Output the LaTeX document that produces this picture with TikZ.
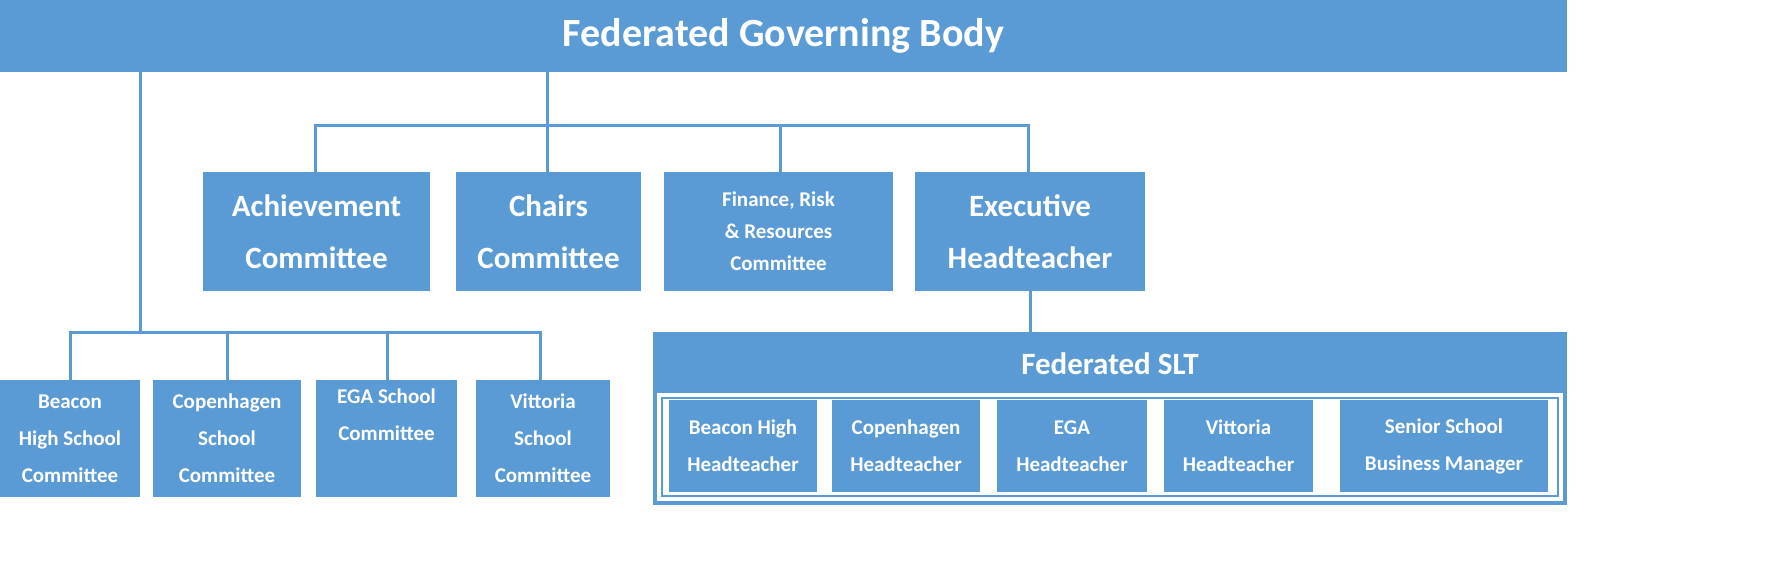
\documentclass[tikz,border=0pt]{standalone}
\usepackage{fontspec}
\setmainfont{Carlito}
\definecolor{bb}{HTML}{5B9BD5}
\begin{document}
\begin{tikzpicture}[x=1pt,y=-1pt,
 bx/.style={fill=bb,draw=none,text=white,font=\bfseries,align=center,inner sep=0},
 ln/.style={draw=bb,line width=3pt}]
\node[bx,minimum width=1567,minimum height=72,font=\bfseries\fontsize{40}{48}\selectfont] (fgb) at (783.5,36) {Federated Governing Body};
% committees
\node[bx,minimum width=227,minimum height=119,font=\bfseries\fontsize{31}{52}\selectfont] (ach) at (316.5,231.5) {Achievement\\Committee};
\node[bx,minimum width=185,minimum height=119,font=\bfseries\fontsize{31}{52}\selectfont] (cha) at (548.5,231.5) {Chairs\\Committee};
\node[bx,minimum width=229,minimum height=119,font=\bfseries\fontsize{21}{32}\selectfont] (fin) at (778.5,231.5) {Finance, Risk\\\& Resources\\Committee};
\node[bx,minimum width=230,minimum height=119,font=\bfseries\fontsize{31}{52}\selectfont] (exe) at (1030,231.5) {Executive\\Headteacher};
% school committees
\tikzset{sc/.style={bx,minimum height=117,font=\bfseries\fontsize{21}{37}\selectfont}}
\node[sc,minimum width=140] (bea) at (70,438.5) {Beacon\\High School\\Committee};
\node[sc,minimum width=148] (cop) at (227,438.5) {Copenhagen\\School\\Committee};
\node[sc,minimum width=141] (ega) at (386.5,438.5) {EGA School\\Committee\\\strut};
\node[sc,minimum width=134] (vit) at (543,438.5) {Vittoria\\School\\Committee};
% SLT
\node[bx,minimum width=914,minimum height=173] (slt) at (1110,418.5) {};
\draw[white,fill=white,line width=2.5pt] (658,394) rectangle (1562,500);
\fill[bb] (661,397) rectangle (1559,497);
\fill[white] (663,399) rectangle (1557,495);
\node[font=\bfseries\fontsize{31}{36}\selectfont,text=white] (sltt) at (1110,364) {Federated SLT};
\tikzset{ht/.style={bx,minimum height=92,font=\bfseries\fontsize{21}{37}\selectfont}}
\node[ht,minimum width=148] (h1) at (743,446) {Beacon High\\Headteacher};
\node[ht,minimum width=148] (h2) at (906,446) {Copenhagen\\Headteacher};
\node[ht,minimum width=150] (h3) at (1072,446) {EGA\\Headteacher};
\node[ht,minimum width=149] (h4) at (1238.5,446) {Vittoria\\Headteacher};
\node[ht,minimum width=208] (h5) at (1444,446) {Senior School\\Business Manager};
% connectors
\coordinate (j1) at (547,125);
\draw[ln] (fgb.south -| j1) -- (cha.north -| j1);
\draw[ln] (ach.north -| 315,0) |- (j1) -| (exe.north -| 1028,0);
\draw[ln] (fin.north -| 780,0) -- (780,125);
\coordinate (j2) at (140,332);
\draw[ln] (fgb.south -| j2) -- (j2);
\draw[ln] (bea.north -| 70,0) |- (j2) -| (vit.north -| 540,0);
\draw[ln] (cop.north -| 227,0) -- (227,332);
\draw[ln] (ega.north -| 387,0) -- (387,332);
\draw[ln] (exe.south -| 1030,0) -- (slt.north -| 1030,0);
\pgfresetboundingbox
\useasboundingbox (0,0) rectangle (1775,573);
\end{tikzpicture}
\end{document}
